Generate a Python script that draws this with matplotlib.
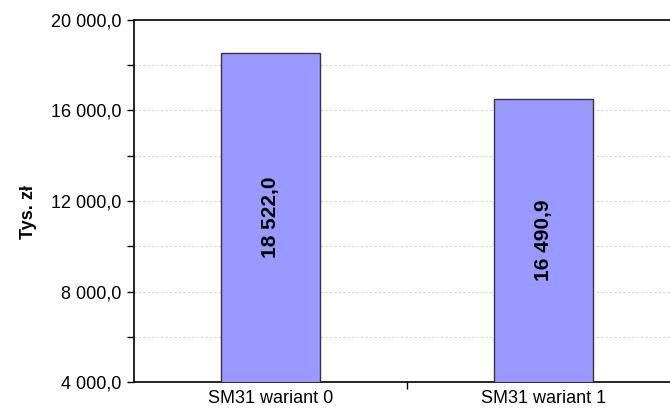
import numpy as np
import matplotlib.pyplot as plt
from matplotlib.ticker import FuncFormatter, MultipleLocator

plt.rcParams['font.family'] = ['Liberation Sans', 'DejaVu Sans']

categories = ["SM31 wariant 0", "SM31 wariant 1"]
values = [18522.0, 16490.9]
y_min, y_max = 4000, 20000


def fmt(v, pos=None):
    # polish style: space as thousands separator, comma as decimal
    s = "{:,.1f}".format(v)
    return s.replace(",", " ").replace(".", ",")


fig = plt.figure(figsize=(6.7, 4.12), dpi=100)
ax = fig.add_axes([0.2, 0.0728, 0.815, 0.8787])

x = np.arange(len(categories))
bars = ax.bar(x, values, width=0.36, bottom=0, color="#9999ff",
              edgecolor="#333344", linewidth=1.0, zorder=3)

for xi, v in zip(x, values):
    ax.text(xi, (y_min + v) / 2, fmt(v), rotation=90, ha="center", va="center",
            fontsize=15, fontweight="bold", zorder=4)

ax.set_xlim(-0.5, 1.5)
ax.set_ylim(y_min, y_max)

ax.yaxis.set_major_locator(MultipleLocator(4000))
ax.yaxis.set_minor_locator(MultipleLocator(2000))
ax.yaxis.set_major_formatter(FuncFormatter(fmt))
ax.grid(axis="y", which="both", color="#d4d4d4", linestyle=(0, (2, 2)),
        linewidth=0.8, zorder=0)

ax.set_xticks([0.5])
ax.set_xticklabels([])
ax.set_xticks(x, minor=True)
ax.set_xticklabels(categories, minor=True)
ax.tick_params(axis="x", which="minor", length=0, pad=6, labelsize=13)
ax.tick_params(axis="x", which="major", length=5, width=1)
ax.tick_params(axis="y", which="both", length=5, width=1, labelsize=13, pad=4)

ax.set_ylabel("Tys. zł", fontsize=13, fontweight="bold")
ax.yaxis.set_label_coords(-0.178, 0.47)

ax.spines["right"].set_visible(False)
for s in ["left", "top", "bottom"]:
    ax.spines[s].set_linewidth(1.2)

fig.savefig("out.png", dpi=100)
